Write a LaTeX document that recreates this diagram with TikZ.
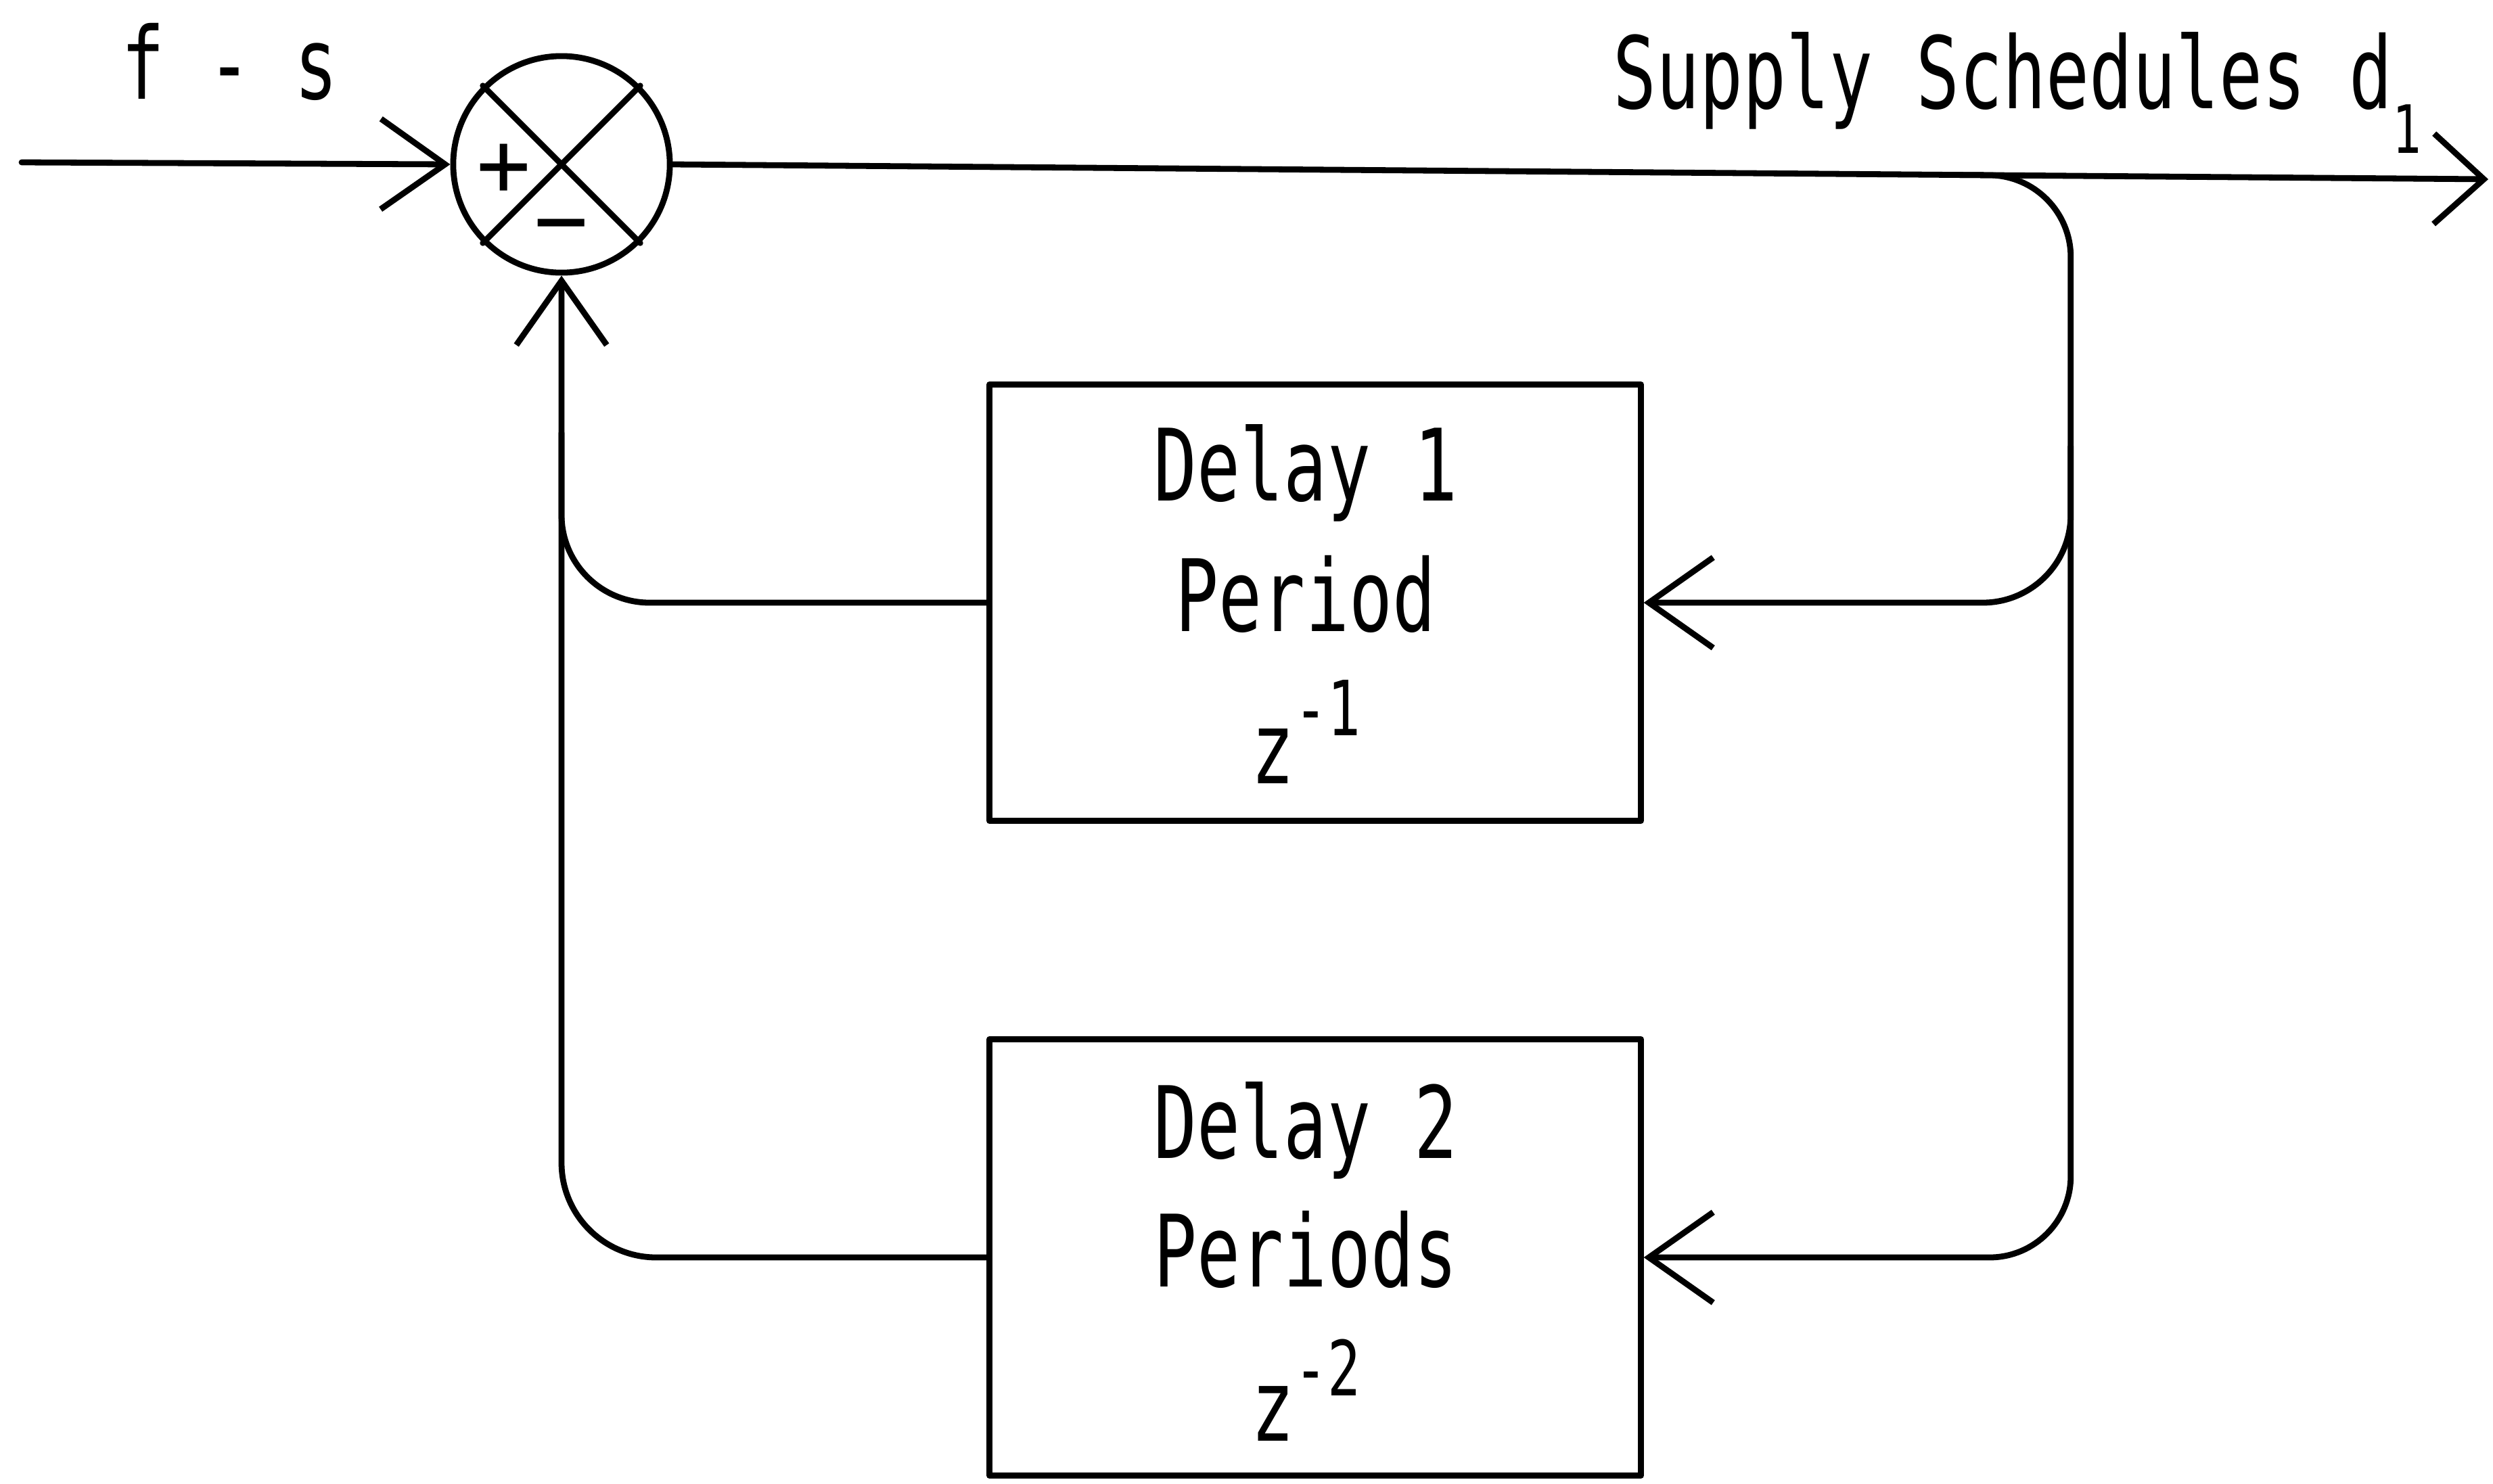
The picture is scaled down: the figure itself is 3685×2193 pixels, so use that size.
\documentclass[tikz,border=0pt]{standalone}
\usepackage{fontspec}
\usetikzlibrary{arrows.meta,calc}
% narrow plotter-style lettering
\newfontfamily\plotfont[FakeStretch=0.72]{DejaVu Sans Mono}
\newfontfamily\signfont{DejaVu Sans Mono}

\begin{document}
\begin{tikzpicture}[x=0.01cm,y=-0.01cm,
  line width=2.5pt, line join=round, line cap=round,
  >={Straight Barb[length=27pt,width=38pt]},
  shortbarb/.style={-{Straight Barb[length=21pt,width=38pt]}},
  label/.style={font=\plotfont\fontsize{42pt}{48pt}\selectfont, inner sep=0pt, anchor=base},
  small/.style={font=\plotfont\fontsize{28pt}{32pt}\selectfont, inner sep=0pt, anchor=base west},
  delaybox/.style={draw, rectangle, minimum width=9.62cm, minimum height=6.45cm, inner sep=0pt},
  sumjunction/.style={draw, circle, minimum size=3.2cm, inner sep=0pt},
  sign/.style={font=\signfont\fontsize{38pt}{44pt}\selectfont, inner sep=0pt, anchor=base}
]
\useasboundingbox (0,0) rectangle (3685,2193);

% summing junction
\node[sumjunction] (sum) at (830,243) {};
\draw (sum.north west) -- (sum.south east) (sum.north east) -- (sum.south west);
\node[sign] (plus) at (745,289) {+};
\node[sign] (minus) at (830,371) {−};

% delay blocks
\node[delaybox] (d1) at (1944,891) {};
\node[delaybox] (d2) at (1944,1859) {};

\node[label] (d1a) at (1930,740) {Delay 1};
\node[label] (d1b) at (1930,933) {Period};
\node[label] (d1c) at (1930,1158) {z\raisebox{20pt}{\fontsize{32pt}{36pt}\selectfont -1}};

\node[label] (d2a) at (1930,1712) {Delay 2};
\node[label] (d2b) at (1930,1902) {Periods};
\node[label] (d2c) at (1930,2130) {z\raisebox{19pt}{\fontsize{32pt}{36pt}\selectfont -2}};

% signal labels
\node[label, anchor=base west] (fs) at (175,146) {f - s};
\node[label, anchor=base west] (supply) at (2380,160) {Supply Schedules d};
\node[small] (sub) at (3532,226) {1};

% input and output
\coordinate (inp) at (32,240);
\coordinate (outp) at (3678,265);
\draw[->] (inp) -- (sum.west);
\draw[shortbarb] (sum.east) -- (outp);

% feedback taps on the right
\coordinate (branch) at ($(sum.east)!0.70!(outp)$);
\coordinate (rail) at ($(sum.east)!0.77!(outp)$);
\coordinate (tap) at ($(rail)+(0,400)$);
\draw[->, rounded corners=1.2cm] (branch) -- (rail) -- (rail |- d2.east) -- (d2.east);
\draw[->, rounded corners=1.3cm] (tap) -- (tap |- d1.east) -- (d1.east);

% feedback returns on the left
\coordinate (join) at (830,640);
\draw[->, rounded corners=1.4cm] (d2.west) -- (d2.west -| sum.south) -- (sum.south);
\draw[rounded corners=1.3cm] (d1.west) -- (d1.west -| join) -- (join);
\end{tikzpicture}
\end{document}
